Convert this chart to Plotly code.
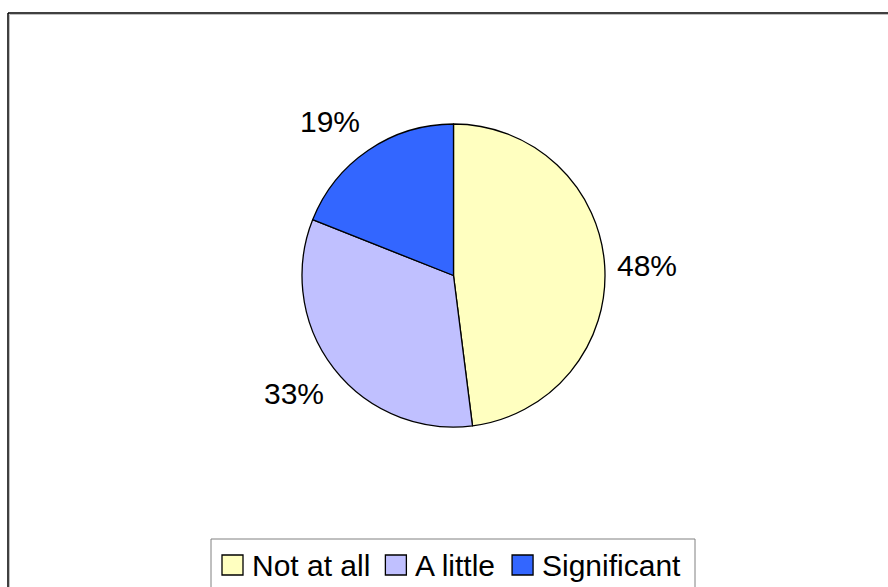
import math
import plotly.graph_objects as go

# ---- data ----
categories = ["Not at all", "A little", "Significant"]
values = [48, 33, 19]
colors = ["#FFFFC0", "#C0C0FF", "#3366FF"]

W, H = 888, 587
FONT = "Liberation Sans, Arial, sans-serif"
FS = 30

# pie geometry (pixels)
cx, cy, r = 453.5, 275.5, 151.5

fig = go.Figure()
fig.add_trace(go.Pie(
    labels=categories,
    values=values,
    sort=False,
    direction="clockwise",
    rotation=0,
    marker=dict(colors=colors, line=dict(color="black", width=1.3)),
    textinfo="none",
    hoverinfo="label+percent",
    domain=dict(x=[(cx - r) / W, (cx + r) / W],
                y=[1 - (cy + r) / H, 1 - (cy - r) / H]),
    showlegend=False,
))

# percentage labels placed outside each slice at its mid angle
total = sum(values)
cum = 0.0
label_r = 1.28
nudges = [(0, -2), (-6, 1), (-15, -6)]
for v, (dx, dy) in zip(values, nudges):
    mid = (cum + v / 2) / total * 2 * math.pi
    cum += v
    px = cx + label_r * r * math.sin(mid)
    py = cy - label_r * r * math.cos(mid)
    fig.add_annotation(
        x=px / W, y=1 - py / H, xref="paper", yref="paper",
        text=f"{round(v / total * 100)}%", showarrow=False,
        xanchor="center", yanchor="middle", xshift=dx, yshift=dy,
        font=dict(family=FONT, size=FS, color="black"),
    )

# ---- legend (drawn as a boxed row of swatches + labels) ----
ARIAL_W = {"N": .722, "o": .556, "t": .278, " ": .278, "a": .556, "l": .222,
           "A": .667, "i": .222, "e": .556, "S": .667, "g": .556, "n": .556,
           "f": .278, "c": .5}


def text_w(s, size):
    return sum(ARIAL_W.get(ch, .556) for ch in s) * size


leg_left, leg_right, leg_top = 211, 695, 539
sw, sh = 21, 20
leg_cy = 565
fig.add_shape(type="rect", xref="paper", yref="paper",
              x0=leg_left / W, x1=leg_right / W,
              y0=-0.05, y1=1 - leg_top / H,
              line=dict(color="#808080", width=1), fillcolor="white")
x = 222
for name, col in zip(categories, colors):
    fig.add_shape(type="rect", xref="paper", yref="paper",
                  x0=x / W, x1=(x + sw) / W,
                  y0=1 - (leg_cy + sh / 2) / H, y1=1 - (leg_cy - sh / 2) / H,
                  line=dict(color="black", width=1.3), fillcolor=col)
    x += sw + 7
    fig.add_annotation(x=x / W, y=1 - leg_cy / H, xref="paper", yref="paper",
                       text=name, showarrow=False, xanchor="left",
                       yanchor="middle",
                       font=dict(family=FONT, size=FS, color="black"))
    x += text_w(name, FS) + 17

# outer chart-area border (top and left visible)
fig.add_shape(type="line", xref="paper", yref="paper",
              x0=9.5 / W, x1=1.01, y0=1 - 14.5 / H, y1=1 - 14.5 / H,
              line=dict(color="#C0C0C0", width=1))
fig.add_shape(type="line", xref="paper", yref="paper",
              x0=9.5 / W, x1=9.5 / W, y0=1 - 14.5 / H, y1=-0.01,
              line=dict(color="#C0C0C0", width=1))
fig.add_shape(type="line", xref="paper", yref="paper",
              x0=8 / W, x1=1.01, y0=1 - 13 / H, y1=1 - 13 / H,
              line=dict(color="black", width=1.5))
fig.add_shape(type="line", xref="paper", yref="paper",
              x0=8 / W, x1=8 / W, y0=1 - 13 / H, y1=-0.01,
              line=dict(color="black", width=1.5))

fig.update_layout(
    width=W, height=H,
    margin=dict(l=0, r=0, t=0, b=0),
    paper_bgcolor="white",
    plot_bgcolor="white",
    font=dict(family=FONT, color="black"),
    showlegend=False,
)

fig.write_html("out.html")
